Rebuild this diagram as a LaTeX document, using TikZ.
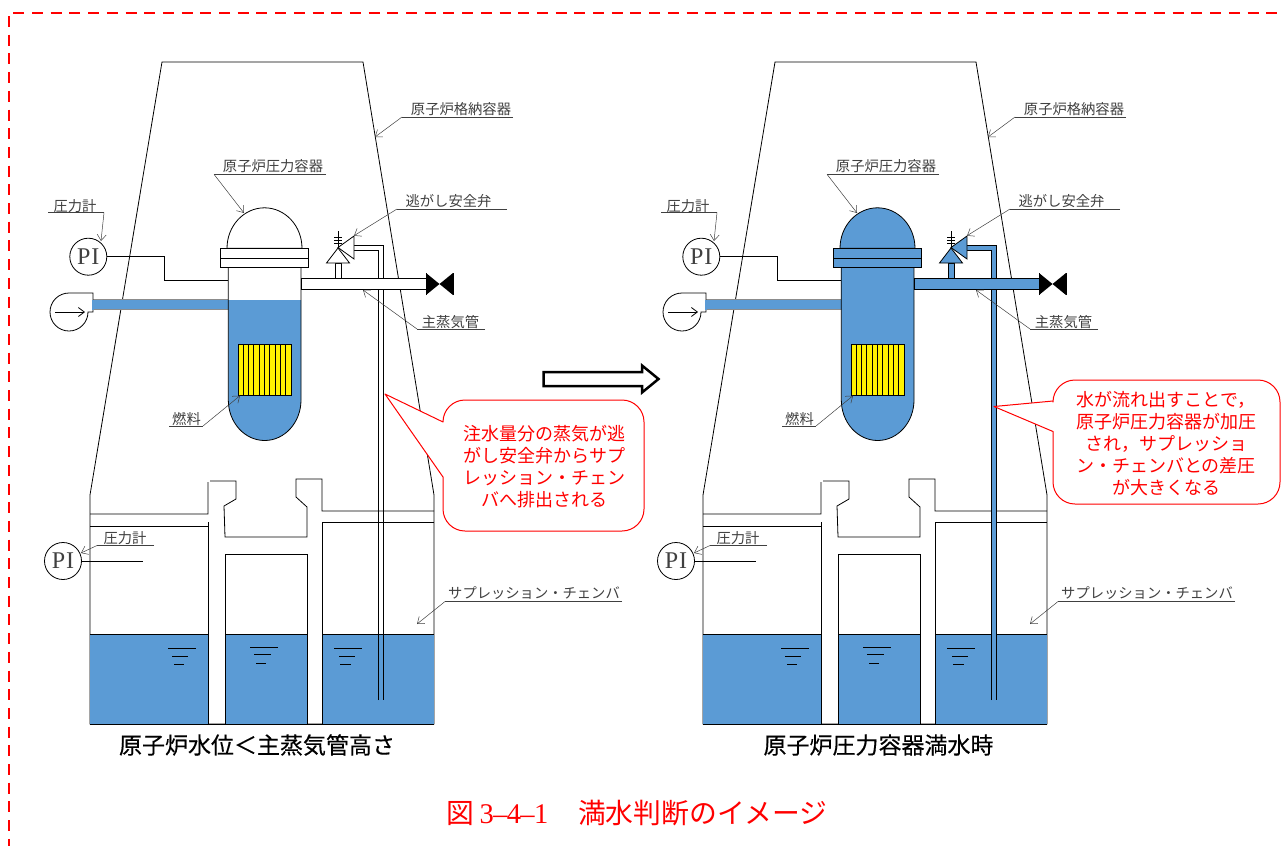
\documentclass[tikz,border=0pt]{standalone}
\usepackage{fontspec}
\setmainfont{Noto Sans CJK JP}
\newfontfamily\piFont{Liberation Serif}
\newfontfamily\headFont[FakeBold=0.35]{Noto Sans CJK JP}
\usetikzlibrary{arrows.meta}
\definecolor{wat}{HTML}{5B9BD5}
\definecolor{alert}{HTML}{FF0000}
\definecolor{lead}{gray}{0.25}
\newcommand\halfch[1]{\makebox[13.6pt][c]{\piFont\fontsize{28.5}{28}\selectfont #1}}
\tikzset{
  wall/.style={draw=black,line width=0.8pt},
  thin wall/.style={draw=black,line width=0.7pt},
  leader/.style={draw=lead,line width=0.5pt},
  leadarrow/.style={draw=lead,line width=0.5pt,-{Straight Barb[length=6pt,width=9pt,line width=0.5pt]}},
  lab/.style={text=lead,inner sep=0pt,font=\fontsize{14.3}{15}\selectfont},
  pi node/.style={circle,draw=black,line width=0.8pt,minimum size=37pt,inner sep=0pt,fill=white,text=black!75,font=\piFont\fontsize{24}{24}\selectfont},
  level/.style={draw=black,line width=0.7pt},
  callout/.style={draw=alert,line width=1pt,fill=white,line join=round},
  calltext/.style={text=alert,inner sep=0pt,align=center,font=\fontsize{18}{22}\selectfont},
  headline/.style={text=black,inner sep=0pt,font=\headFont\fontsize{23}{24}\selectfont},
  redborder/.style={alert,line width=2pt,dash pattern=on 11pt off 7.7pt},
}
% #1 prefix, #2 x shift, #3 colour of the steam region, #4 opacity of the relief pipe's filling
\newcommand\plantdraw[4]{%
\begin{scope}[name prefix=#1-,xshift=#2pt]
  % containment
  \draw[wall] (90,724) -- (90,495) -- (162,62) -- (363,62) -- (434,495) -- (434,724) -- cycle;
  % water pools
  \fill[wat] (90,634) rectangle (208.5,724);
  \fill[wat] (225,634.5) rectangle (307,724);
  \fill[wat] (322,634.5) rectangle (434,724);
  \draw[thin wall] (90,634) -- (208.5,634) (225,634.5) -- (307,634.5) (322,634.5) -- (434,634.5);
  % vent structure
  \draw[wall] (90,514) -- (208,514) -- (208,482) (210,481) -- (236,481) -- (236,499) -- (224,506) -- (225,537) -- (307,537) -- (307,507) -- (296,497) -- (296,479) -- (322,479) -- (322,511) -- (434,511);
  \draw[wall] (90,526) -- (208.5,526) (208.5,522) -- (208.5,724);
  \draw[wall] (225,724) -- (225,554) -- (307,554) -- (307,724);
  \draw[wall] (322,724) -- (322,522) -- (434,522);
  \draw[wall] (90,724) -- (434,724);
  % level marks
  \draw[level] (168,648) -- (196,648) (172,656) -- (188,656) (174,664.5) -- (184,664.5);
  \draw[level] (250,647) -- (278,647) (254,654.5) -- (271,654.5) (256,663) -- (266,663);
  \draw[level] (334,648) -- (362,648) (339,656) -- (355,656) (340,664) -- (351,664);
  % relief pipe
  \path[fill=#3,fill opacity=#4] (353,245) -- (383,245) -- (383,700) -- (378,700) -- (378,250) -- (353,250) -- cycle;
  \draw[thin wall] (353,245) -- (383,245) -- (383,700) (378,700) -- (378,250) -- (353,250);
  % main steam pipe
  \draw[wall,fill=#3] (301,278) rectangle (426,289.5);
  % valve stem and valve
  \draw[wall,fill=#3] (335,278) -- (335,263) -- (341,263) -- (341,278);
  \draw[wall,fill=#3] (338,247.5) -- (354,236) -- (354,259) -- cycle;
  \draw[wall,fill=#3] (326.5,263) -- (338,248) -- (349.5,263) -- cycle;
  \draw[line width=1pt] (338,231) -- (338,248) (334,237) -- (342,237) (334,240) -- (342,240) (334,243) -- (342,243);
  % isolation valve
  \fill[black] (426,273) -- (453,295) -- (453,273) -- (426,295) -- cycle;
  \draw[line width=0.8pt] (426,273) -- (426,295) (453,273) -- (453,295);
  % feedwater line
  \fill[wat] (92,299.5) rectangle (228.5,309.5);
  \draw[draw=black!45,line width=0.5pt] (92,299.5) -- (228,299.5) (92,309.5) -- (228,309.5);
  % vessel
  \fill[#3] (228.3,267) -- (228.3,300) -- (301,300) -- (301,267) -- cycle;
  \fill[wat] (228.3,300) -- (228.3,400) arc[start angle=180,end angle=0,x radius=36.35,y radius=40.5] -- (301,300) -- cycle;
  \draw[wall] (228.3,267) -- (228.3,400) arc[start angle=180,end angle=0,x radius=36.35,y radius=40.5] -- (301,267);
  \draw[wall,fill=#3] (227,248.3) arc[start angle=180,end angle=360,x radius=37.5,y radius=40.5] -- cycle;
  \draw[wall,fill=#3] (220,248.3) rectangle (308.7,267.3);
  \draw[wall] (220,258.3) -- (308.7,258.3);
  % fuel
  \draw[wall,fill=yellow] (238,344.7) rectangle (291,395);
  \foreach \k in {1,...,9} {\draw[line width=0.9pt] ({238+5.3*\k},344.7) -- ({238+5.3*\k},395);}
  % pressure instruments
  \node[pi node] (piU) at (88.3,256.7) {P\kern1pt I};
  \coordinate (rpvTap) at (228.3,280.7);
  \draw[thin wall] (piU.east) -- (164,256.7) -- (164,280.7) -- (rpvTap);
  \node[pi node] (piL) at (63,561) {P\kern1pt I};
  \coordinate (wwEnd) at (143,561);
  \draw[thin wall] (piL.east) -- (wwEnd);
  % pump
  \draw[wall,fill=white] (69,293) arc[start angle=270,end angle=0,radius=19] -- (93,312) -- (93,293) -- cycle;
  \fill[wat] (92.4,299.5) rectangle (94,309.5);
  \coordinate (pumpA) at (55,312);
  \coordinate (pumpB) at (85,312);
  \draw[line width=0.8pt,-{Straight Barb[length=6pt,width=9pt]}] (pumpA) -- (pumpB);
  % labels with leaders
  \node[lab,anchor=center] (lPCV) at (461,109) {原子炉格納容器};
  \coordinate (aPCV) at (402,117); \coordinate (bPCV) at (513,117); \coordinate (tPCV) at (375,137);
  \draw[leader] (bPCV) -- (aPCV); \draw[leadarrow] (aPCV) -- (tPCV);
  \node[lab] (lRPV) at (273,166) {原子炉圧力容器};
  \coordinate (aRPV) at (214,174.3); \coordinate (bRPV) at (326,174.3); \coordinate (tRPV) at (244,213);
  \draw[leader] (bRPV) -- (aRPV); \draw[leadarrow] (aRPV) -- (tRPV);
  \node[lab] (lSRV) at (448.5,201.5) {逃がし安全弁};
  \coordinate (aSRV) at (397,209); \coordinate (bSRV) at (507,209); \coordinate (tSRV) at (354,235.7);
  \draw[leader] (bSRV) -- (aSRV); \draw[leadarrow] (aSRV) -- (tSRV);
  \node[lab] (lMS) at (450.5,322) {主蒸気管};
  \coordinate (aMS) at (417,329); \coordinate (bMS) at (485,329); \coordinate (tMS) at (363,290);
  \draw[leader] (bMS) -- (aMS); \draw[leadarrow] (aMS) -- (tMS);
  \node[lab] (lF) at (186.5,419) {燃料};
  \coordinate (aF) at (169,426); \coordinate (bF) at (203,426); \coordinate (tF) at (240,395.7);
  \draw[leader] (aF) -- (bF); \draw[leadarrow] (bF) -- (tF);
  \node[lab] (lPU) at (75,206) {圧力計};
  \coordinate (aPU) at (48,212.7); \coordinate (bPU) at (104,212.7); \coordinate (tPU) at (101,241);
  \draw[leader] (aPU) -- (bPU); \draw[leadarrow] (bPU) -- (tPU);
  \node[lab] (lPL) at (125,538) {圧力計};
  \coordinate (aPL) at (154,545.5); \coordinate (bPL) at (97,545.5); \coordinate (tPL) at (81,553);
  \draw[leader] (aPL) -- (bPL); \draw[leadarrow] (bPL) -- (tPL);
  \node[lab] (lSC) at (534,593) {サプレッション・チェンバ};
  \coordinate (aSC) at (445,601.5); \coordinate (bSC) at (622,601.5); \coordinate (tSC) at (417,624);
  \draw[leader] (bSC) -- (aSC); \draw[leadarrow] (aSC) -- (tSC);
\end{scope}}
\begin{document}
\begin{tikzpicture}[x=1pt,y=-1pt]
  \useasboundingbox (0,0) rectangle (1281,846);
  \draw[redborder] (9,16) -- (9,846);
  \draw[redborder] (13.3,13) -- (1281,13);
  \plantdraw{L}{0}{white}{0}
  \plantdraw{R}{613}{wat}{1}
  % transition arrow
  \draw[line width=2.5pt,fill=white,line join=miter] (543.5,372) -- (642,372) -- (642,365.5) -- (658.5,379) -- (642,392.5) -- (642,386) -- (543.5,386) -- cycle;
  % callouts
  \draw[callout] (385,394) -- (443,422) [rounded corners=22pt] -- (443,400) -- (644,400) -- (644,531) -- (443,531) [sharp corners] -- (443,477) -- cycle;
  \node[calltext] (noteL) at (544,467) {注水量分の蒸気が逃\\がし安全弁からサプ\\レッション・チェン\\バへ排出される};
  \draw[callout] (994,406.5) -- (1053,401) [rounded corners=22pt] -- (1053,380) -- (1280,380) -- (1280,504) -- (1053,504) [sharp corners] -- (1053,431.5) -- cycle;
  \node[calltext] (noteR) at (1166,443.5) {水が流れ出すことで，\\原子炉圧力容器が加圧\\され，サプレッショ\\ン・チェンバとの差圧\\が大きくなる};
  % titles
  \node[headline] (capL) at (257,745) {原子炉水位＜主蒸気管高さ};
  \node[headline] (capR) at (878.5,745) {原子炉圧力容器満水時};
  \node[text=alert,inner sep=0pt,anchor=west,font=\fontsize{27.8}{28}\selectfont] (fig) at (446,813) {図\kern6pt\halfch{3}\halfch{–}\halfch{4}\halfch{–}\halfch{1}\kern30pt 満水判断のイメージ};
\end{tikzpicture}
\end{document}
